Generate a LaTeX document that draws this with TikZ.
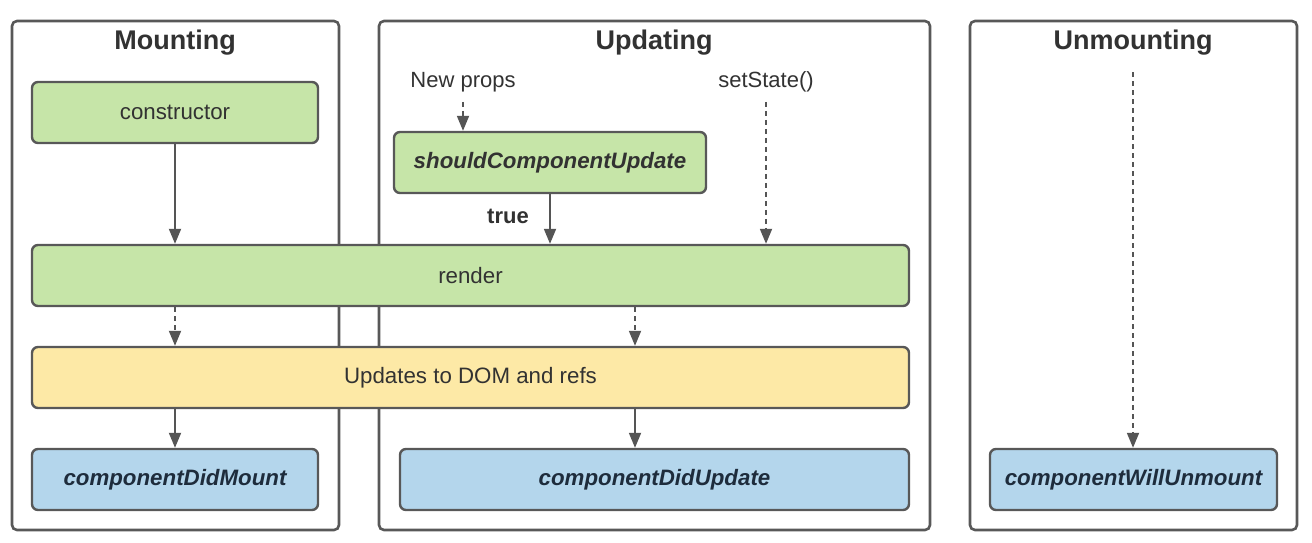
\documentclass[tikz,border=0pt]{standalone}
\usepackage{fontspec}
\setmainfont{Liberation Sans}
\usetikzlibrary{arrows.meta}
\definecolor{bordc}{RGB}{88,88,88}
\definecolor{greenf}{RGB}{198,229,168}
\definecolor{yellowf}{RGB}{253,233,166}
\definecolor{bluef}{RGB}{180,214,236}
\definecolor{txtc}{RGB}{50,50,50}
\definecolor{bluetxt}{RGB}{30,44,60}
\definecolor{arrc}{RGB}{85,85,85}
\tikzset{
  panel/.style={draw=bordc,line width=2.6pt,rounded corners=5pt,fill=white,inner sep=0pt},
  box/.style={draw=bordc,line width=2.4pt,rounded corners=6pt,minimum height=61pt,inner sep=0pt,text=txtc,font=\fontsize{22.3}{26}\selectfont},
  greenbox/.style={box,fill=greenf},
  yellowbox/.style={box,fill=yellowf},
  bluebox/.style={box,fill=bluef,text=bluetxt,font=\fontsize{22.3}{26}\selectfont\bfseries\itshape},
  paneltitle/.style={text=txtc,font=\fontsize{27}{32}\selectfont\bfseries,inner sep=0pt,anchor=base},
  lbl/.style={text=txtc,font=\fontsize{22}{26}\selectfont,inner sep=0pt,anchor=base},
  conn/.style={draw=arrc,line width=1.8pt,-{Triangle[width=12pt,length=15pt]}},
  dconn/.style={conn,dash pattern=on 5pt off 4pt},
}
\begin{document}
\begin{tikzpicture}[x=1pt,y=-1pt]
\useasboundingbox (0,0) rectangle (1312,542);
\fill[white] (0,0) rectangle (1312,542);
% panels
\node[panel,minimum width=327pt,minimum height=509pt] (pmount) at (175.5,275.5) {};
\node[panel,minimum width=551pt,minimum height=509pt] (pupdate) at (654.5,275.5) {};
\node[panel,minimum width=327pt,minimum height=509pt] (punmount) at (1133.5,275.5) {};
\node[paneltitle] (tmount) at (175,49) {Mounting};
\node[paneltitle] (tupdate) at (654,49) {Updating};
\node[paneltitle] (tunmount) at (1133,49) {Unmounting};
% boxes
\node[greenbox,minimum width=286pt] (constructor) at (175,112.5) {constructor};
\node[greenbox,minimum width=312pt,font=\fontsize{22.3}{26}\selectfont\bfseries\itshape] (should) at (550,162.5) {shouldComponentUpdate};
\node[greenbox,minimum width=877pt] (render) at (470.5,275.5) {render};
\node[yellowbox,minimum width=877pt] (dom) at (470.5,377.5) {Updates to DOM and refs};
\node[bluebox,minimum width=286pt] (didmount) at (175,479.5) {componentDidMount};
\node[bluebox,minimum width=509pt] (didupdate) at (654.5,479.5) {componentDidUpdate};
\node[bluebox,minimum width=287pt] (willunmount) at (1133.5,479.5) {componentWillUnmount};
% labels
\node[lbl] (newprops) at (463,87) {New props};
\node[lbl] (setstate) at (766,87) {setState()};
\node[lbl,font=\fontsize{22}{26}\selectfont\bfseries] (truelbl) at (508,223) {true};
\coordinate (ucol) at (635,300);
\coordinate (unstart) at (1133,72);
% connectors
\draw[conn] (constructor.south) -- (constructor.south |- render.north);
\draw[conn] (should.south) -- (should.south |- render.north);
\draw[dconn] ([yshift=-10pt]newprops.south) -- (newprops.south |- should.north);
\draw[dconn] ([yshift=-10pt]setstate.south) -- (setstate.south |- render.north);
\draw[dconn] (render.south -| constructor.south) -- (dom.north -| constructor.south);
\draw[dconn] (render.south -| ucol) -- (dom.north -| ucol);
\draw[conn] (dom.south -| didmount.north) -- (didmount.north);
\draw[conn] (dom.south -| ucol) -- (didupdate.north -| ucol);
\draw[dconn] (unstart) -- (willunmount.north -| unstart);
\end{tikzpicture}
\end{document}
